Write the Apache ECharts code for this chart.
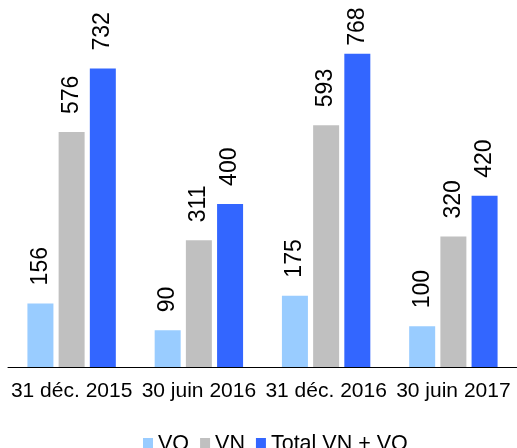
<!DOCTYPE html>
<html>
<head>
<meta charset="utf-8">
<script src="https://cdn.jsdelivr.net/npm/echarts@6/dist/echarts.min.js"></script>
<style>
  html, body { margin: 0; padding: 0; background: #fff; }
  #chart { width: 517px; height: 448px; }
</style>
</head>
<body>
<div id="chart"></div>
<script>
  // donnees
  var categories = ['31 déc. 2015', '30 juin 2016', '31 déc. 2016', '30 juin 2017'];
  var seriesNames = ['VO', 'VN', 'Total VN + VO'];
  var voData = [156, 90, 175, 100];
  var vnData = [576, 311, 593, 320];
  var totalData = [732, 400, 768, 420];
  var colors = ['#99CCFF', '#C0C0C0', '#3366FF'];

  var font = '"Liberation Sans", Arial, sans-serif';

  var myChart = echarts.init(document.getElementById('chart'));

  function makeSeries(name, data, color) {
    return {
      name: name,
      type: 'bar',
      // l'etiquette la plus haute est rapprochee de la barre pour rester dans le cadre
      data: data.map(function (v) {
        return v > 750 ? { value: v, label: { distance: 7 } } : v;
      }),
      barWidth: 26,
      barGap: '20%',
      itemStyle: { color: color },
      label: {
        show: true,
        position: 'top',
        rotate: 90,
        align: 'left',
        verticalAlign: 'middle',
        distance: 17,
        offset: [1, 0],
        color: '#000',
        fontFamily: font,
        fontSize: 23
      }
    };
  }

  myChart.setOption({
    animation: false,
    textStyle: { fontFamily: font },
    grid: {
      left: 8,
      top: 0,
      width: 511,
      height: 367
    },
    legend: {
      data: seriesNames,
      left: 138,
      top: 428,
      icon: 'rect',
      itemWidth: 10,
      itemHeight: 12,
      itemGap: 11,
      textStyle: { color: '#000', fontSize: 21.5, fontFamily: font }
    },
    xAxis: {
      type: 'category',
      data: categories,
      axisLine: { lineStyle: { color: '#000', width: 1 } },
      axisTick: { show: false },
      axisLabel: { color: '#000', fontSize: 21, fontFamily: font, margin: 14, interval: 0 }
    },
    yAxis: {
      type: 'value',
      min: 0,
      max: 900,
      show: false,
      splitLine: { show: false }
    },
    series: [
      makeSeries(seriesNames[0], voData, colors[0]),
      makeSeries(seriesNames[1], vnData, colors[1]),
      makeSeries(seriesNames[2], totalData, colors[2])
    ]
  });
</script>
</body>
</html>
